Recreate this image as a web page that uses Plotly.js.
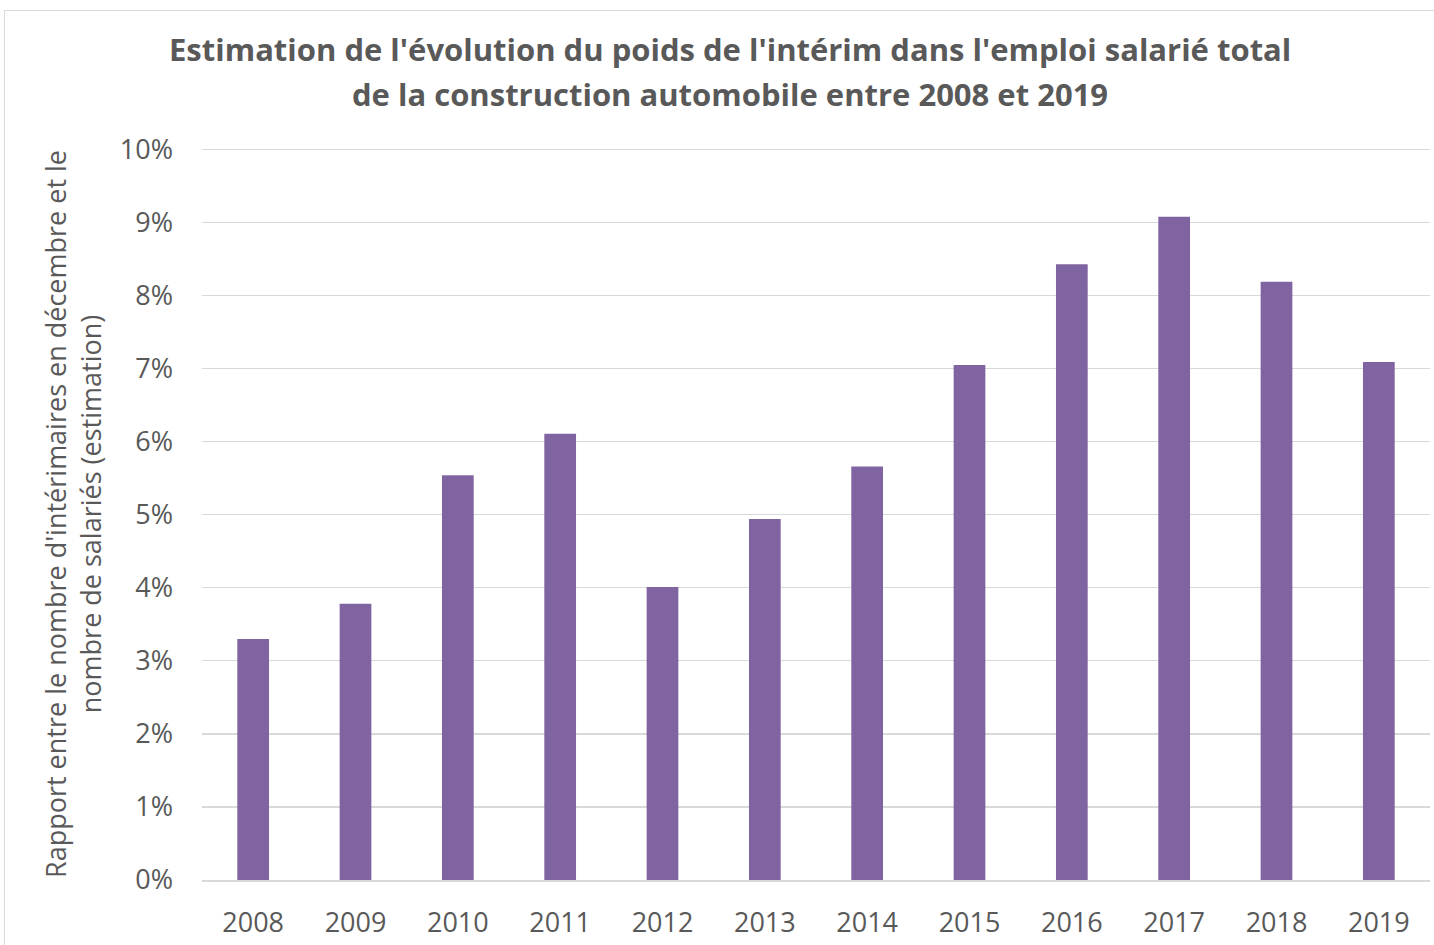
<!DOCTYPE html>
<html><head><meta charset="utf-8">
<script src="https://cdn.plot.ly/plotly-3.0.1.min.js"></script>
<style>
html,body{margin:0;padding:0;background:#fff;}
#frame{position:absolute;left:4px;top:10px;width:1440px;height:940px;border:1px solid #d9d9d9;box-sizing:border-box;}
#chart{position:absolute;left:0;top:0;width:1434px;height:945px;}
</style></head>
<body>
<div id="frame"></div>
<div id="chart"></div>
<script>
const years = ['2008','2009','2010','2011','2012','2013','2014','2015','2016','2017','2018','2019'];
const ratios = [0.0330,0.0378,0.0554,0.0611,0.0401,0.0494,0.0566,0.0705,0.0843,0.0908,0.0819,0.0709];
const yTickVals = [0,0.01,0.02,0.03,0.04,0.05,0.06,0.07,0.08,0.09,0.10];
const titleLines = ["Estimation de l'évolution du poids de l'intérim dans l'emploi salarié total",
                    "de la construction automobile entre 2008 et 2019"];

const font = "Open Sans, sans-serif";
Plotly.newPlot('chart', [{
  type:'bar', x:years, y:ratios,
  marker:{color:'#8064A2'}, hoverinfo:'x+y'
}], {
  width:1434, height:945,
  paper_bgcolor:'rgba(0,0,0,0)', plot_bgcolor:'rgba(0,0,0,0)',
  margin:{l:202,r:4,t:148,b:65},
  bargap:0.69,
  font:{family:font,color:'#595959',size:27},
  annotations:[
    {text:'<b>'+titleLines[0]+'</b>', xref:'paper', yref:'paper', x:0.430, y:1.1354, xanchor:'center', yanchor:'middle', showarrow:false, font:{size:31,color:'#595959'}},
    {text:'<b>'+titleLines[1]+'</b>', xref:'paper', yref:'paper', x:0.430, y:1.0739, xanchor:'center', yanchor:'middle', showarrow:false, font:{size:31,color:'#595959'}}
  ],
  xaxis:{type:'category', showgrid:false, showline:true, linecolor:'#d9d9d9', linewidth:1.5,
    ticks:'', tickfont:{size:27,color:'#595959'}, ticklabelstandoff:18},
  yaxis:{range:[0,0.1002], tickvals:yTickVals, tickformat:'.0%', showgrid:true, gridcolor:'#d9d9d9', gridwidth:1.3,
    zeroline:false, showline:false, ticks:'', tickfont:{size:27,color:'#595959'}, ticklabelstandoff:28,
    title:{text:"Rapport entre le nombre d'intérimaires en décembre et le<br>nombre de salariés (estimation)",
      font:{size:27,color:'#595959'}, standoff:10}},
  showlegend:false
}, {displayModeBar:false, staticPlot:true});
</script>
</body></html>
